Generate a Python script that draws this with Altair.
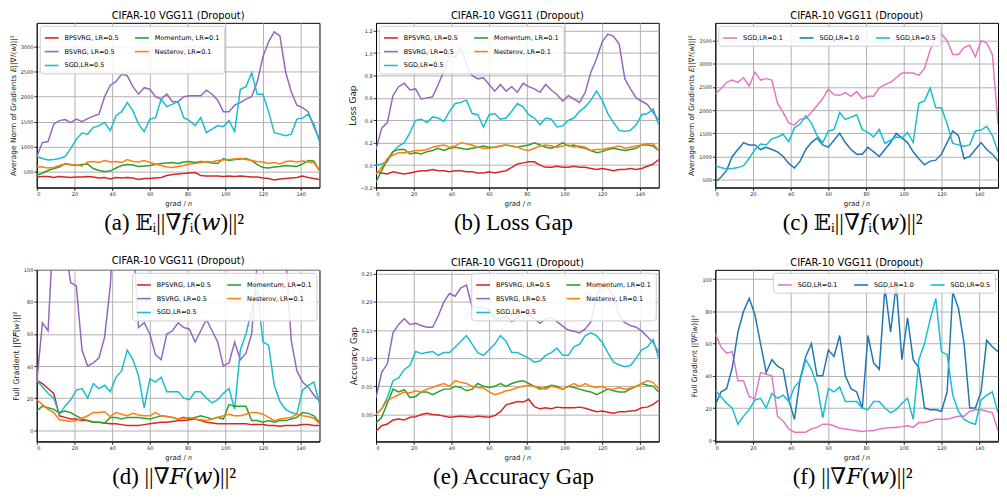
import altair as alt
import pandas as pd

FONT = "DejaVu Sans"
SERIF = "Liberation Serif, DejaVu Serif, serif"

X = list(range(0, 151, 3))

BPS = "BPSVRG, LR=0.5"
BSV = "BSVRG, LR=0.5"
SGD5 = "SGD,LR=0.5"
MOM = "Momentum, LR=0.1"
NES = "Nesterov, LR=0.1"
SGD1 = "SGD,LR=0.1"
SGD10 = "SGD,LR=1.0"

COLORS = {BPS: "#d62728", BSV: "#9467bd", SGD5: "#17becf", MOM: "#2ca02c",
          NES: "#ff7f0e", SGD1: "#e377c2", SGD10: "#1f77b4"}

# ---------------- (a) average norm of gradients ----------------
a_bpsvrg = [390, 400, 400, 380, 400, 390, 380, 390, 390, 400,
            390, 370, 380, 350, 380, 370, 380, 370, 340, 360,
            360, 370, 380, 420, 440, 450, 460, 470, 480, 420,
            410, 410, 410, 400, 410, 400, 410, 400, 390, 390,
            370, 360, 330, 350, 360, 370, 380, 410, 380, 360,
            340]
a_bsvrg = [800, 1080, 1100, 1450, 1520, 1540, 1480, 1550, 1500, 1560,
           1610, 1650, 2000, 2230, 2300, 2450, 2420, 2200, 2050, 2180,
           2150, 2000, 1950, 2050, 1900, 1900, 2000, 2020, 2020, 2020,
           2130, 2050, 1930, 1700, 1700, 1830, 1880, 1950, 2000, 2300,
           2800, 3100, 3300, 3220, 2500, 2100, 1830, 1780, 1700, 1400,
           1150]
sgd05_norm = [800, 760, 730, 740, 760, 800, 960, 1150, 1270, 1250,
              1380, 1420, 1480, 1320, 1620, 1700, 1880, 1720, 1450, 1300,
              1550, 1580, 1950, 1800, 1850, 1900, 1580, 1520, 1420, 1580,
              1280, 1350, 1420, 1400, 1520, 1300, 2150, 2200, 2480, 2050,
              2050, 1700, 1280, 1250, 1220, 1250, 1550, 1570, 1650, 1450,
              1100]
a_momentum = [420, 470, 520, 560, 590, 660, 640, 620, 640, 650,
              560, 520, 500, 510, 570, 620, 640, 630, 600, 610,
              620, 640, 660, 670, 680, 660, 690, 700, 680, 700,
              690, 670, 660, 760, 720, 740, 750, 760, 720, 640,
              580, 570, 590, 600, 620, 610, 600, 650, 720, 710,
              520]
a_nesterov = [600, 590, 570, 580, 620, 650, 630, 630, 610, 690,
              700, 680, 720, 690, 700, 680, 740, 700, 690, 720,
              680, 650, 620, 590, 580, 600, 620, 650, 660, 680,
              700, 690, 720, 730, 740, 750, 760, 740, 720, 700,
              690, 660, 680, 650, 700, 710, 690, 710, 690, 680,
              520]

# ---------------- (b) loss gap ----------------
b_bpsvrg = [-0.06, -0.07, -0.08, -0.06, -0.07, -0.08, -0.07, -0.06, -0.05, -0.05,
            -0.04, -0.05, -0.05, -0.06, -0.05, -0.05, -0.06, -0.06, -0.07, -0.07,
            -0.06, -0.07, -0.06, -0.05, -0.02, 0.01, 0.02, 0.03, 0.03, 0.00,
            -0.02, -0.02, -0.01, -0.02, -0.02, -0.01, -0.02, -0.02, -0.03, -0.04,
            -0.03, -0.04, -0.05, -0.04, -0.04, -0.03, -0.04, -0.03, -0.01, 0.01,
            0.05]
b_bsvrg = [0.14, 0.33, 0.38, 0.62, 0.70, 0.73, 0.67, 0.68, 0.59, 0.60,
           0.61, 0.72, 0.84, 0.98, 0.96, 1.05, 0.90, 0.80, 0.77, 0.78,
           0.72, 0.66, 0.72, 0.66, 0.70, 0.65, 0.73, 0.70, 0.68, 0.65,
           0.72, 0.67, 0.63, 0.57, 0.62, 0.59, 0.56, 0.65, 0.83, 0.95,
           1.10, 1.17, 1.15, 1.08, 0.77, 0.68, 0.60, 0.57, 0.54, 0.47,
           0.40]
b_sgd = [0.00, 0.01, 0.03, 0.12, 0.17, 0.20, 0.29, 0.40, 0.41, 0.38,
         0.43, 0.42, 0.39, 0.48, 0.55, 0.56, 0.58, 0.46, 0.45, 0.34,
         0.45, 0.46, 0.41, 0.42, 0.48, 0.55, 0.52, 0.45, 0.42, 0.36,
         0.42, 0.41, 0.34, 0.35, 0.40, 0.42, 0.48, 0.52, 0.58, 0.66,
         0.58, 0.46, 0.38, 0.31, 0.30, 0.31, 0.36, 0.45, 0.46, 0.50,
         0.36]
b_momentum = [-0.15, -0.05, 0.05, 0.12, 0.14, 0.14, 0.10, 0.11, 0.10, 0.12,
              0.13, 0.15, 0.13, 0.15, 0.16, 0.15, 0.14, 0.15, 0.16, 0.17,
              0.16, 0.16, 0.17, 0.18, 0.17, 0.16, 0.17, 0.18, 0.20, 0.18,
              0.16, 0.15, 0.17, 0.20, 0.17, 0.18, 0.16, 0.15, 0.13, 0.11,
              0.12, 0.14, 0.15, 0.14, 0.13, 0.14, 0.15, 0.18, 0.18, 0.17,
              0.13]
b_nesterov = [-0.08, -0.02, 0.06, 0.09, 0.11, 0.11, 0.12, 0.13, 0.13, 0.14,
              0.16, 0.17, 0.18, 0.16, 0.17, 0.20, 0.19, 0.18, 0.16, 0.15,
              0.15, 0.16, 0.17, 0.18, 0.17, 0.16, 0.14, 0.13, 0.15, 0.17,
              0.18, 0.17, 0.16, 0.17, 0.18, 0.16, 0.17, 0.16, 0.13, 0.14,
              0.14, 0.15, 0.16, 0.17, 0.15, 0.16, 0.17, 0.18, 0.19, 0.19,
              0.13]

# ---------------- (c) average norm, SGD learning rates ----------------
c_sgd01 = [2350, 2460, 2600, 2650, 2600, 2700, 2520, 2820, 2650, 2680,
           2650, 2150, 1950, 1720, 1680, 1800, 1820, 1950, 2100, 2250,
           2450, 2330, 2320, 2380, 2300, 2400, 2250, 2300, 2300, 2480,
           2550, 2600, 2700, 2800, 2800, 2800, 2750, 2900, 3300, 3550,
           3650, 3500, 3200, 3200, 3350, 3400, 3150, 3500, 3450, 3200,
           1700]
c_sgd10 = [450, 550, 700, 1000, 1150, 1300, 1250, 1250, 1150, 1200,
           1150, 1100, 1000, 850, 750, 900, 1150, 1300, 1400, 1250,
           1200, 1350, 1500, 1300, 1150, 1050, 1050, 1200, 1100, 1000,
           1150, 1300, 1500, 1400, 1300, 1100, 950, 820, 900, 920,
           1050, 1300, 1550, 1450, 950, 1000, 1150, 1300, 1150, 1050,
           900]

# ---------------- (d) full gradient ----------------
d_bpsvrg = [31, 29, 26, 23, 9, 8, 7, 7, 6, 6,
            5, 5, 4.5, 4, 4, 3.5, 3, 3, 3, 3.5,
            4, 4.5, 5, 5, 5.5, 6, 6, 6.5, 7, 6,
            5, 4.5, 4, 4, 4, 4, 4, 4, 3.5, 3.5,
            3.5, 3, 3, 2.5, 3, 3, 3, 3.5, 3.5, 3,
            3]
d_bsvrg = [30, 67, 62, 130, 160, 115, 92, 90, 50, 40,
           42, 45, 58, 90, 150, 180, 160, 120, 64, 67,
           60, 47, 44, 60, 62, 67, 64, 63, 55, 62,
           69, 62, 55, 40, 42, 55, 44, 48, 60, 105,
           160, 180, 170, 150, 110, 56, 37, 30, 27, 22,
           18]
sgd05_full = [31, 27, 23, 20, 10, 15, 19, 25, 26, 20,
              29, 26, 28, 24, 33, 37, 50, 44, 34, 14,
              32, 30, 33, 24, 24, 24, 20, 19, 24, 24,
              20, 17, 19, 23, 26, 13, 50, 60, 75, 88,
              55, 53, 28, 18, 13, 11, 10, 25, 28, 30,
              17]
d_momentum = [12, 15, 14, 13, 11, 12, 11, 9, 7, 6,
              5, 5, 4.5, 8, 8, 7, 8, 8, 8, 7.5,
              7, 8, 9, 8.5, 8, 7, 8, 7, 8, 9,
              8, 7, 8, 7, 16, 15, 15, 15, 6, 6,
              5, 6, 5, 6, 6, 7, 8, 11, 10.5, 9,
              5]
d_nesterov = [19, 16, 13, 11, 6.5, 6, 5.5, 6, 7.5, 9,
              11, 11, 11.5, 8.5, 11, 10, 9, 10.5, 9.5, 9,
              9, 11, 9, 8.5, 8, 7, 7.5, 8, 7, 6.5,
              6, 7, 8, 9, 10, 9, 9, 10, 11, 11,
              10, 8, 6, 7, 7.5, 8, 10, 9, 8.5, 7.5,
              4]

# ---------------- (e) accuracy gap ----------------
e_bpsvrg = [-0.03, -0.02, -0.017, -0.01, -0.008, -0.01, -0.005, -0.004, 0.0, 0.002,
            0.0, -0.001, -0.003, -0.005, -0.004, -0.003, -0.004, -0.005, -0.003, -0.004,
            -0.005, -0.002, 0.005, 0.017, 0.02, 0.023, 0.022, 0.027, 0.014, 0.01,
            0.012, 0.01, 0.013, 0.012, 0.012, 0.012, 0.013, 0.011, 0.008, 0.005,
            0.006, 0.004, 0.002, 0.005, 0.005, 0.006, 0.007, 0.012, 0.013, 0.018,
            0.025]
e_bsvrg = [0.03, 0.075, 0.09, 0.145, 0.16, 0.17, 0.16, 0.162, 0.158, 0.155,
           0.155, 0.175, 0.2, 0.215, 0.21, 0.225, 0.23, 0.19, 0.19, 0.19,
           0.185, 0.17, 0.17, 0.175, 0.165, 0.172, 0.183, 0.175, 0.17, 0.162,
           0.17, 0.172, 0.165, 0.157, 0.15, 0.148, 0.145, 0.152, 0.165, 0.21,
           0.23, 0.226, 0.21, 0.175, 0.163, 0.158, 0.155, 0.148, 0.138, 0.128,
           0.11]
e_sgd = [0.0, 0.01, 0.03, 0.06, 0.065, 0.08, 0.087, 0.112, 0.108, 0.11,
         0.112, 0.105, 0.11, 0.11, 0.12, 0.13, 0.14, 0.125, 0.11, 0.105,
         0.115, 0.125, 0.14, 0.13, 0.11, 0.11, 0.105, 0.1, 0.093, 0.095,
         0.105, 0.11, 0.118, 0.105, 0.105, 0.12, 0.125, 0.14, 0.145, 0.14,
         0.128, 0.11, 0.093, 0.088, 0.085, 0.087, 0.1, 0.115, 0.12, 0.133,
         0.1]
e_momentum = [-0.015, -0.005, 0.02, 0.045, 0.04, 0.044, 0.03, 0.032, 0.04, 0.04,
              0.035, 0.04, 0.045, 0.045, 0.05, 0.048, 0.042, 0.045, 0.055, 0.05,
              0.048, 0.05, 0.055, 0.05, 0.055, 0.058, 0.06, 0.055, 0.05, 0.045,
              0.048, 0.052, 0.05, 0.045, 0.05, 0.048, 0.045, 0.042, 0.04, 0.035,
              0.04, 0.045, 0.042, 0.04, 0.04, 0.045, 0.05, 0.055, 0.052, 0.05,
              0.04]
e_nesterov = [0.0, 0.01, 0.025, 0.03, 0.035, 0.04, 0.038, 0.042, 0.04, 0.045,
              0.048, 0.052, 0.055, 0.05, 0.06, 0.057, 0.055, 0.05, 0.048, 0.047,
              0.04, 0.035, 0.038, 0.042, 0.044, 0.048, 0.05, 0.052, 0.05, 0.048,
              0.045, 0.05, 0.048, 0.045, 0.05, 0.055, 0.05, 0.055, 0.05, 0.048,
              0.05, 0.045, 0.045, 0.048, 0.045, 0.047, 0.05, 0.055, 0.06, 0.057,
              0.045]

# ---------------- (f) full gradient, SGD learning rates ----------------
f_sgd01 = [66, 58, 54, 55, 37, 37, 27, 26, 42, 41,
           40, 15, 12, 7, 5, 5, 5, 7, 8, 10,
           10, 9, 7.5, 7, 6.5, 6, 5.5, 6, 6, 7,
           7.5, 8, 8, 8.5, 9, 8, 11, 11, 12, 13,
           13, 13, 14, 15, 15, 18, 19, 19, 18, 17,
           6]
f_sgd10 = [22, 30, 32, 45, 67, 80, 88, 78, 60, 42,
           50, 46, 44, 25, 13, 38, 52, 60, 40, 40,
           56, 52, 65, 40, 32, 30, 20, 65, 48, 44,
           95, 67, 97, 50, 76, 50, 45, 20, 19, 19,
           18, 30, 92, 82, 60, 20, 20, 30, 62, 58,
           55]

X_TICKS = [0, 20, 40, 60, 80, 100, 120, 140]
W = 285
H_TOP, H_BOT = 166, 173

FIVE = [BPS, BSV, SGD5, MOM, NES]   # legend fills column by column, as in the reference
THREE = [SGD1, SGD10, SGD5]


def make_df(series):
    rows = []
    for name, vals in series.items():
        if len(vals) != len(X):
            raise ValueError(f"{name}: {len(vals)} values")
        for xv, yv in zip(X, vals):
            rows.append({"x": xv, "y": yv, "series": name})
    return pd.DataFrame(rows)


def panel(series, order, cols, orient, ydomain, yticks, yfmt,
          ytitle, ytitle_size, caption, height):
    df = make_df(series)
    color = alt.Color(
        "series:N",
        scale=alt.Scale(domain=order, range=[COLORS[s] for s in order]),
        legend=alt.Legend(
            title=None, orient=orient, offset=3, columns=cols,
            symbolType="stroke", symbolSize=196, symbolStrokeWidth=1.6,
            labelFontSize=6.5, labelFont=FONT, labelColor="black", labelLimit=300,
            fillColor="rgba(255,255,255,0.85)", strokeColor="#cccccc",
            cornerRadius=3, padding=4, rowPadding=2, columnPadding=12,
            labelOffset=5,
        ),
    )
    x = alt.X("x:Q", scale=alt.Scale(domain=[0, 150], nice=False),
              axis=alt.Axis(values=X_TICKS, title="grad / 𝑛", titleFontSize=7,
                            titleFont=FONT, titleFontWeight="normal", titlePadding=3))
    y = alt.Y("y:Q", scale=alt.Scale(domain=ydomain, nice=False, zero=False),
              axis=alt.Axis(values=yticks, format=yfmt, title=ytitle,
                            titleFontSize=ytitle_size, titleFont=FONT,
                            titleFontWeight="normal", titlePadding=3))
    layers = [
        alt.Chart(df).transform_filter(alt.datum.series == s)
        .mark_line(strokeWidth=1.5, clip=True)
        .encode(x=x, y=y, color=color)
        for s in order
    ]
    cap = alt.Chart(pd.DataFrame({"t": [caption]})).mark_text(
        font=SERIF, fontSize=23, color="black", baseline="middle", align="center"
    ).encode(text="t:N", x=alt.value(W / 2 - 4), y=alt.value(height + 36))
    return alt.layer(*layers, cap).properties(
        width=W, height=height,
        title=alt.TitleParams("CIFAR-10 VGG11 (Dropout)", fontSize=10, font=FONT,
                              fontWeight="normal", color="black", offset=2),
    )


pa = panel({BPS: a_bpsvrg, BSV: a_bsvrg, SGD5: sgd05_norm, MOM: a_momentum, NES: a_nesterov},
           FIVE, 2, "top-left", [180, 3480],
           [500, 1000, 1500, 2000, 2500, 3000], "d",
           "Average Norm of Gradients 𝐸||∇𝑓ᵢ(𝑤)||²", 7.5, "(a) 𝔼ᵢ||∇𝑓ᵢ(𝑤)||²", H_TOP)
pb = panel({BPS: b_bpsvrg, BSV: b_bsvrg, SGD5: b_sgd, MOM: b_momentum, NES: b_nesterov},
           FIVE, 2, "top-left", [-0.2, 1.27],
           [-0.2, 0.0, 0.2, 0.4, 0.6, 0.8, 1.0, 1.2], ".1f",
           "Loss Gap", 9, "(b) Loss Gap", H_TOP)
pc = panel({SGD1: c_sgd01, SGD10: c_sgd10, SGD5: sgd05_norm},
           THREE, 3, "top-left", [330, 3885],
           [500, 1000, 1500, 2000, 2500, 3000, 3500], "d",
           "Average Norm of Gradients 𝐸||∇𝑓ᵢ(𝑤)||²", 7.5, "(c) 𝔼ᵢ||∇𝑓ᵢ(𝑤)||²", H_TOP)
pd_ = panel({BPS: d_bpsvrg, BSV: d_bsvrg, SGD5: sgd05_full, MOM: d_momentum, NES: d_nesterov},
            FIVE, 2, "top-right", [-7, 100],
            [0, 20, 40, 60, 80, 100], "d",
            "Full Gradient ||∇𝐹(𝑤)||²", 8, "(d) ||∇𝐹(𝑤)||²", H_BOT)
pe = panel({BPS: e_bpsvrg, BSV: e_bsvrg, SGD5: e_sgd, MOM: e_momentum, NES: e_nesterov},
           FIVE, 2, "top-right", [-0.048, 0.257],
           [0.0, 0.05, 0.10, 0.15, 0.20, 0.25], ".2f",
           "Accuracy Gap", 8.5, "(e) Accuracy Gap", H_BOT)
pf = panel({SGD1: f_sgd01, SGD10: f_sgd10, SGD5: sgd05_full},
           THREE, 3, "top-right", [-0.7, 105.7],
           [0, 20, 40, 60, 80, 100], "d",
           "Full Gradient ||∇𝐹(𝑤)||²", 7.5, "(f) ||∇𝐹(𝑤)||²", H_BOT)

chart = alt.concat(
    pa, pb, pc, pd_, pe, pf, columns=3, spacing={"row": 83, "column": 57},
    bounds="flush", align={"row": "each", "column": "all"},
).resolve_scale(
    x="independent", y="independent", color="independent"
).resolve_legend(color="independent").resolve_axis(x="independent", y="independent").properties(
    padding={"left": 0, "top": 0, "right": 0, "bottom": 0}
).configure_view(
    stroke="black", strokeWidth=1
).configure_axis(
    gridColor="#b0b0b0", gridWidth=1, domainColor="black", domainWidth=1,
    tickColor="black", tickSize=3, tickWidth=0.8,
    labelFont=FONT, labelFontSize=5, labelColor="#222222", labelPadding=1,
    titleColor="#222222",
).configure_title(anchor="middle")

chart.save("out.html", embed_options={"renderer": "svg", "actions": False})
